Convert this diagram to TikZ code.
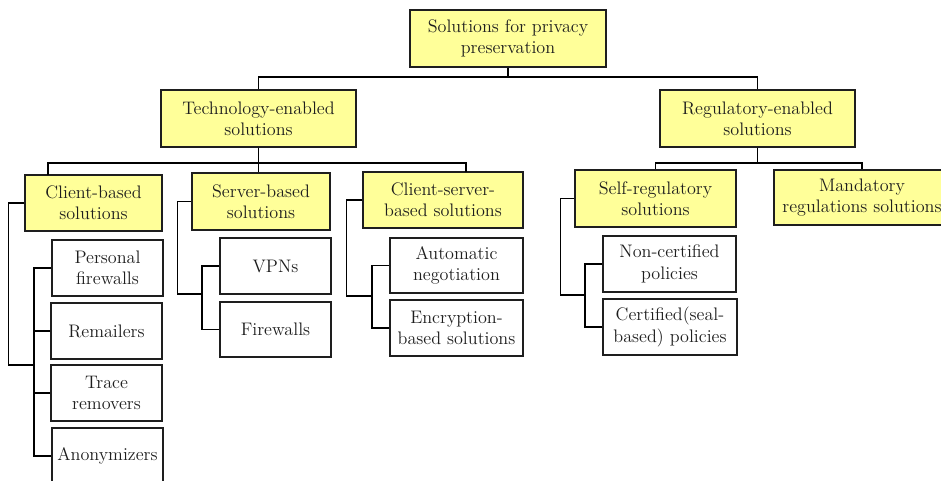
\documentclass[tikz,border=0pt]{standalone}
\usepackage{fontspec}
\usetikzlibrary{calc}
\definecolor{boxyellow}{RGB}{255,255,153}
\definecolor{inkgray}{RGB}{30,30,30}
\begin{document}
\begin{tikzpicture}[x=0.75pt,y=-0.75pt,
  every node/.style={font=\fontsize{13.6pt}{16pt}\selectfont, text=inkgray},
  basebox/.style={draw=inkgray, line width=0.9pt, align=center, inner sep=0pt},
  ybox/.style={basebox, fill=boxyellow},
  wbox/.style={basebox, fill=white},
  conn/.style={draw=black, line width=0.85pt}]
\useasboundingbox (0,0) rectangle (941,480);
\clip (0,0) rectangle (941,480);
% top levels
\node[ybox, minimum width=147pt, minimum height=42.75pt] (root) at (508,38.5) {Solutions for privacy\\preservation};
\node[ybox, minimum width=146.25pt, minimum height=42.75pt] (tech) at (258.5,118.5) {Technology-enabled\\solutions};
\node[ybox, minimum width=146.25pt, minimum height=42.75pt] (reg) at (757.5,118.5) {Regulatory-enabled\\solutions};
% second level
\node[ybox, minimum width=102.75pt, minimum height=42pt] (client) at (93.5,203) {Client-based\\solutions};
\node[ybox, minimum width=103.5pt, minimum height=42.75pt] (server) at (261,201.5) {Server-based\\solutions};
\node[ybox, minimum width=120pt, minimum height=42pt] (cs) at (443,200) {Client-server-\\based solutions};
\node[ybox, minimum width=120.75pt, minimum height=42.75pt] (self) at (655.5,198.5) {Self-regulatory\\solutions};
\node[ybox, minimum width=132pt, minimum height=41.25pt] (mand) at (862,197.5) {Mandatory\\regulations solutions};
% leaves
\node[wbox, minimum width=83.25pt, minimum height=42pt] (pf) at (107.5,268) {Personal\\firewalls};
\node[wbox, minimum width=83.25pt, minimum height=42pt] (rem) at (106.5,331) {Remailers};
\node[wbox, minimum width=83.25pt, minimum height=42pt] (trace) at (106.5,393) {Trace\\removers};
\node[wbox, minimum width=83.25pt, minimum height=42pt] (anon) at (107.5,456) {Anonymizers};
\node[wbox, minimum width=83.25pt, minimum height=42pt] (vpn) at (275.5,266) {VPNs};
\node[wbox, minimum width=83.25pt, minimum height=41.25pt] (fw) at (275.5,329.5) {Firewalls};
\node[wbox, minimum width=99.75pt, minimum height=41.25pt] (auto) at (456.5,265.5) {Automatic\\negotiation};
\node[wbox, minimum width=99.75pt, minimum height=42pt] (enc) at (456.5,328) {Encryption-\\based solutions};
\node[wbox, minimum width=99.75pt, minimum height=42pt] (noncert) at (669.5,264) {Non-certified\\policies};
\node[wbox, minimum width=100.5pt, minimum height=42pt] (cert) at (670,327) {Certified(seal-\\based) policies};
% junction coordinates
\coordinate (rb) at (508,77);
\coordinate (tb) at (258.5,163);
\coordinate (gb) at (757.5,163);
\coordinate (clTop) at (48,175);
\coordinate (csTop) at (466,172);
\coordinate (cj) at (34,365);
\coordinate (sj) at (202,294);
\coordinate (xj) at (372,296);
\coordinate (fj) at (585,295);
% root connectors
\draw[conn] (root.south) -- (rb);
\draw[conn] (rb) -| (tech.north);
\draw[conn] (rb) -| (reg.north);
% technology connectors
\draw[conn] (tech.south) -- (tb);
\draw[conn] (tb) -| (clTop);
\draw[conn] (tb) -| (csTop);
\draw[conn] (tb) -- (tb |- server.north);
% regulatory connectors
\draw[conn] (reg.south) -- (gb);
\draw[conn] (gb) -| (self.north);
\draw[conn] (gb) -| (mand.north);
% client-based bracket
\draw[conn] (client.west) -- ++(-16,0) |- (cj);
\draw[conn] (pf.west) -| (cj |- anon.west) -- (anon.west);
\draw[conn] (rem.west) -- (rem.west -| cj);
\draw[conn] (trace.west) -- (trace.west -| cj);
% server-based bracket
\draw[conn] (server.west) -- ++(-14,0) |- (sj);
\draw[conn] (vpn.west) -| (sj |- fw.west) -- (fw.west);
% client-server bracket
\draw[conn] (cs.west) -- ++(-16,0) |- (xj);
\draw[conn] (auto.west) -| (xj |- enc.west) -- (enc.west);
% self-regulatory bracket
\draw[conn] (self.west) -- ++(-14,0) |- (fj);
\draw[conn] (noncert.west) -| (fj |- cert.west) -- (cert.west);
\end{tikzpicture}
\end{document}
